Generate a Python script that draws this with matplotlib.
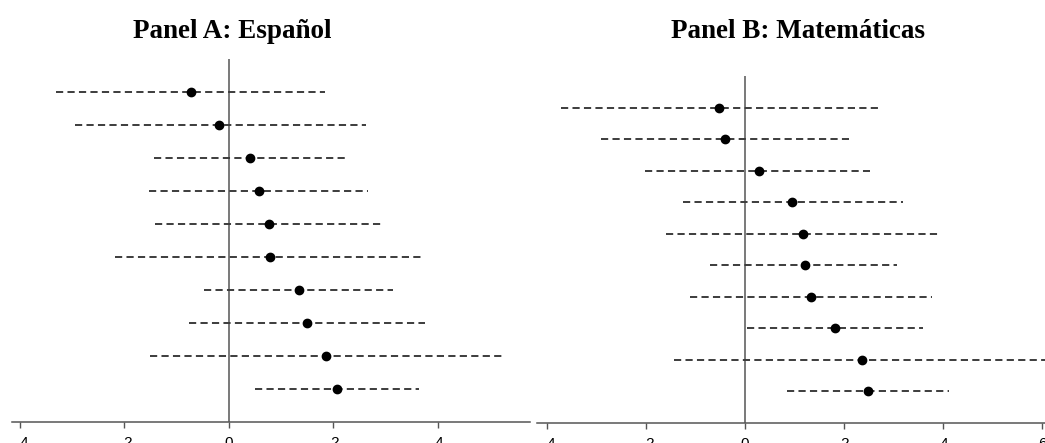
import matplotlib
matplotlib.use("Agg")
from matplotlib import pyplot as plt
from matplotlib.ticker import FixedLocator, FixedFormatter

# estimates and 95% intervals, listed top row to bottom row
esp_est = [-0.073, -0.019, 0.041, 0.057, 0.076, 0.078, 0.134, 0.149, 0.186, 0.207]
esp_lo = [-0.331, -0.295, -0.143, -0.152, -0.142, -0.218, -0.048, -0.077, -0.151, 0.050]
esp_hi = [0.184, 0.262, 0.225, 0.267, 0.293, 0.369, 0.313, 0.375, 0.524, 0.363]

mat_est = [-0.052, -0.041, 0.028, 0.096, 0.117, 0.121, 0.133, 0.182, 0.236, 0.248]
mat_lo = [-0.372, -0.290, -0.201, -0.125, -0.160, -0.070, -0.110, 0.005, -0.143, 0.085]
mat_hi = [0.271, 0.210, 0.253, 0.319, 0.390, 0.308, 0.377, 0.359, 0.640, 0.412]

tick_vals = [-0.4, -0.2, 0, 0.2, 0.4, 0.6]
tick_labels = ["-.4", "-.2", "0", ".2", ".4", ".6"]

W, H = 1045, 443
fig = plt.figure(figsize=(W / 100, H / 100), dpi=100)
fig.patch.set_facecolor("white")

gray = "#3c3c3c"


def panel(rect_px, xlim, est, lo, hi, title, title_x):
    x0, x1, ytop, ybot = rect_px
    ax = fig.add_axes([x0 / W, 1 - ybot / H, (x1 - x0) / W, (ybot - ytop) / H])
    n = len(est)
    ys = [n - i for i in range(n)]
    ax.hlines(ys, lo, hi, colors=gray, linestyles=(0, (3.7, 2.2)), linewidth=1.4)
    ax.plot(est, ys, "o", color="black", markersize=6, zorder=3)
    ax.axvline(0, color="#555555", linewidth=1.1, zorder=1)
    ax.set_xlim(*xlim)
    ax.set_ylim(0, n + 1)
    for s in ["top", "right", "left"]:
        ax.spines[s].set_visible(False)
    ax.spines["bottom"].set_color("#555555")
    ax.spines["bottom"].set_linewidth(1.1)
    ax.set_yticks([])
    ax.xaxis.set_major_locator(FixedLocator(tick_vals))
    ax.xaxis.set_major_formatter(FixedFormatter(tick_labels))
    ax.tick_params(axis="x", length=4, width=1.0, color="#555555", pad=6,
                   labelsize=11, labelcolor="black")
    for lab in ax.get_xticklabels():
        lab.set_fontfamily("Liberation Sans")
    fig.text(title_x / W, 1 - 38 / H, title, ha="center", va="baseline",
             fontsize=19.5, fontweight="bold", family="Liberation Serif")
    return ax


panel((12, 530, 59, 422), (-0.415, 0.576), esp_est, esp_lo, esp_hi,
      "Panel A: Español", 232)
panel((537, 1045, 76, 423), (-0.420, 0.606), mat_est, mat_lo, mat_hi,
      "Panel B: Matemáticas", 798)

fig.savefig("out.png", dpi=100)
